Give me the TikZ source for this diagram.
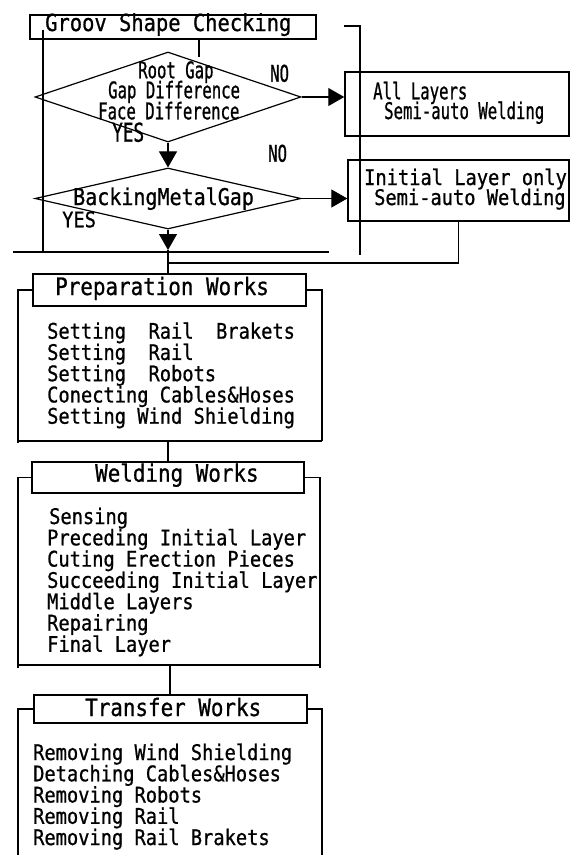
\documentclass[tikz,border=0pt]{standalone}
\usepackage{fontspec}
\usetikzlibrary{arrows.meta,shapes.geometric,calc}
\newfontfamily\gmono[FakeStretch=0.87,FakeBold=0.8]{DejaVu Sans Mono}
\newfontfamily\gcond[FakeStretch=0.68,FakeBold=0.8]{DejaVu Sans Mono}
\tikzset{
  ln/.style={line width=1.1pt},
  tbox/.style={draw, line width=2pt, inner sep=0pt},
  pbox/.style={draw, line width=1.4pt, inner sep=0pt},
  dia/.style={draw, diamond, line width=1.2pt, inner sep=0pt},
  arr/.style={line width=1.1pt, -{Triangle[length=16pt,width=18pt]}},
  txt/.style={anchor=base west, inner sep=0pt},
  ttl/.style={txt, font=\gmono\fontsize{24}{24}\selectfont},
  grv/.style={txt, font=\gmono\fontsize{23.5}{23.5}\selectfont},
  bod/.style={txt, font=\gmono\fontsize{21.5}{21.5}\selectfont},
  cnd/.style={txt, font=\gcond\fontsize{23}{23}\selectfont},
}
\begin{document}
\begin{tikzpicture}[x=1pt,y=-1pt]
\fill[white] (0,0) rectangle (574,855);
\useasboundingbox (0,0) rectangle (574,855);

% ---------- Groove checking ----------
\node[tbox, minimum width=286pt, minimum height=24pt] (groov) at (173,27) {};
\node[grv] (groovtxt) at (45,31) {Groov Shape Checking};

\coordinate (gl1) at (43,30); \coordinate (gl2) at (43,253);
\draw[ln] (gl1) -- (gl2);
\coordinate (gr0) at (344,26); \coordinate (gr1) at (360,26); \coordinate (gr2) at (360,255);
\draw[ln] (gr0) -- (gr1) -- (gr2);
\coordinate (hl1) at (13,252); \coordinate (hl2) at (329,252);
\draw[ln] (hl1) -- (hl2);
\coordinate (stub1) at (199,39); \coordinate (stub2) at (199,57);
\draw[ln] (stub1) -- (stub2);

% ---------- decision 1 ----------
\node[dia, minimum width=266pt, minimum height=90pt] (d1) at (168,97) {};
\node[cnd] (q1a) at (138,78.3) {Root Gap};
\node[cnd] (q1b) at (108,98.3) {Gap Difference};
\node[cnd] (q1c) at (98,119.3) {Face Difference};
\node[txt, font=\gcond\fontsize{26}{26}\selectfont] (yes1) at (112,141.7) {YES};
\node[cnd] (no1) at (270,81.7) {NO};

\node[pbox, minimum width=224pt, minimum height=64pt] (allbox) at (457,104) {};
\node[cnd] (allt1) at (373,99.3) {All Layers};
\node[cnd] (allt2) at (384,119) {Semi-auto Welding};
\draw[arr] (d1.east) -- (d1.east -| allbox.west);

% ---------- decision 2 ----------
\node[dia, minimum width=266pt, minimum height=61pt] (d2) at (168,198.5) {};
\draw[arr] (d1.south) -- (d2.north);
\node[txt, font=\gmono\fontsize{23}{23}\selectfont] (q2) at (73,205) {BackingMetalGap};
\node[bod] (yes2) at (62,227.3) {YES};
\node[cnd] (no2) at (268,161.7) {NO};

\node[pbox, minimum width=221pt, minimum height=61pt] (initbox) at (458.5,190.5) {};
\node[bod] (initt1) at (364,185) {Initial Layer only};
\node[bod] (initt2) at (374,205) {Semi-auto Welding};
\draw[arr] (d2.east) -- (d2.east -| initbox.west);

\coordinate (a2end) at (168,250);
\draw[arr] (d2.south) -- (a2end);
\coordinate (fb) at (168,263);
\draw[ln] (initbox.south) |- (fb);

% ---------- Preparation ----------
\node[tbox, minimum width=273pt, minimum height=32pt] (prep) at (169.5,290) {};
\draw[ln] (a2end) -- (a2end |- prep.north);
\node[ttl] (preptxt) at (55,295) {Preparation Works};
\coordinate (pl) at (18,443); \coordinate (pr) at (322,441); \coordinate (pbl) at (18,441);
\draw[ln] (prep.west) -| (pl);
\draw[ln] (prep.east) -| (pr);
\draw[ln] (pbl) -- (pr);
\foreach \t [count=\i from 0] in {Setting~~Rail~~Brakets, Setting~~Rail, Setting~~Robots, Conecting Cables\&Hoses, Setting Wind Shielding}
  \node[bod] (prepl\i) at (47,{338.7+21.25*\i}) {\t};

% ---------- Welding ----------
\node[tbox, minimum width=272pt, minimum height=31pt] (weld) at (168,477.5) {};
\coordinate (pb) at (168,441);
\draw[ln] (pb) -- (pb |- weld.north);
\node[ttl] (weldtxt) at (95,481.7) {Welding Works};
\coordinate (wl) at (18,668); \coordinate (wr) at (320,668);
\coordinate (wbl) at (18,665); \coordinate (wbr) at (320,665);
\draw[ln] (weld.west) -| (wl);
\draw[ln] (weld.east) -| (wr);
\draw[ln] (wbl) -- (wbr);
\foreach \t/\xx [count=\i from 0] in {Sensing/49, Preceding Initial Layer/47, Cuting Erection Pieces/47, Succeeding Initial Layer/47, Middle Layers/47, Repairing/47, Final Layer/47}
  \node[bod] (weldl\i) at (\xx,{524+21.3*\i}) {\t};

% ---------- Transfer ----------
\node[tbox, minimum width=273pt, minimum height=28pt] (trans) at (170.5,709) {};
\coordinate (wb) at (170,665);
\draw[ln] (wb) -- (wb |- trans.north);
\node[ttl] (transtxt) at (85,716) {Transfer Works};
\coordinate (tl) at (18,856); \coordinate (tr) at (322,856);
\draw[ln] (trans.west) -| (tl);
\draw[ln] (trans.east) -| (tr);
\foreach \t [count=\i from 0] in {Removing Wind Shielding, Detaching Cables\&Hoses, Removing Robots, Removing Rail, Removing Rail Brakets}
  \node[bod] (transl\i) at (33,{760+21.25*\i}) {\t};
\end{tikzpicture}
\end{document}
